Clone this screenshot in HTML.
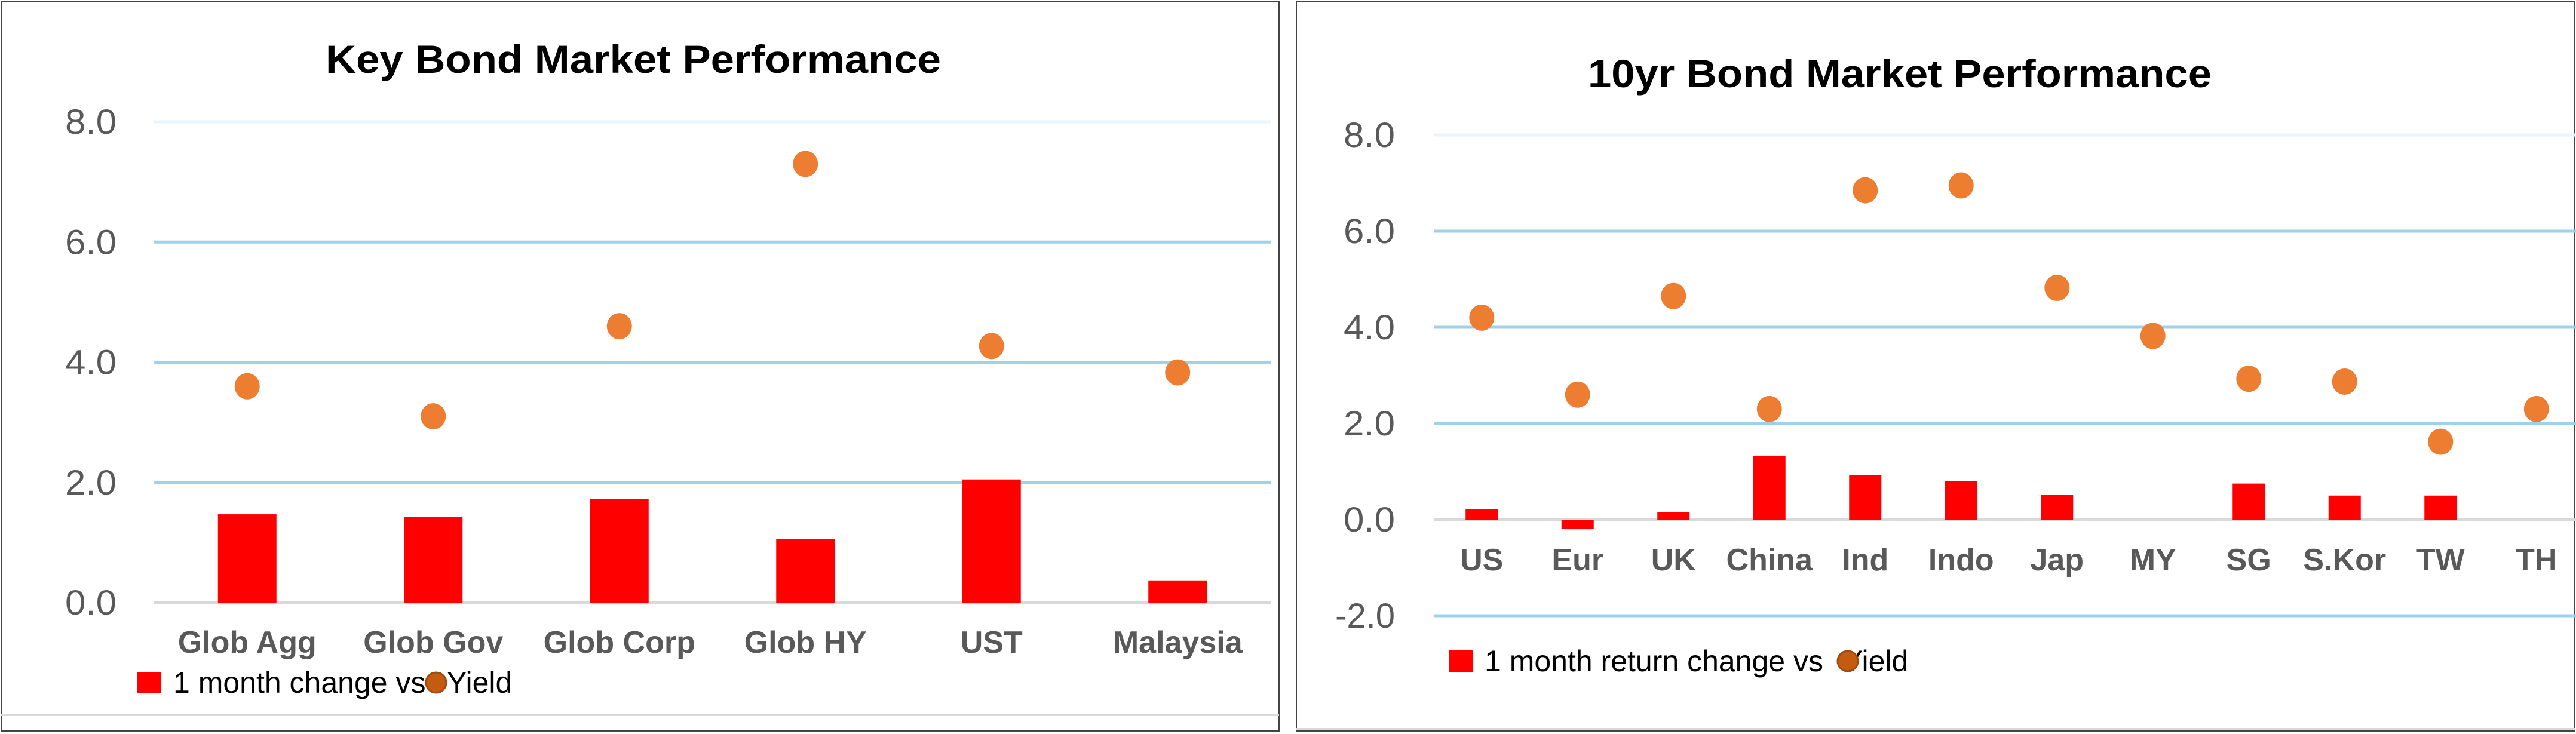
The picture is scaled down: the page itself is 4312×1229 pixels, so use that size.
<!DOCTYPE html>
<html><head><meta charset="utf-8">
<style>
html,body{margin:0;padding:0;background:#fff;}
svg{display:block;}
text{font-family:"Liberation Sans",sans-serif;}
</style></head>
<body>
<svg id="chart" width="4312" height="1229" viewBox="0 0 4312 1229" xmlns="http://www.w3.org/2000/svg">
<rect x="0" y="0" width="4312" height="1229" fill="#fff"/>
<rect x="2" y="2" width="2139" height="1222" fill="none" stroke="#444" stroke-width="2"/>
<rect x="2170" y="2" width="2140" height="1222" fill="none" stroke="#444" stroke-width="2"/>
<line x1="2" y1="1197" x2="2141" y2="1197" stroke="#d9d9d9" stroke-width="4"/>
<line x1="2170" y1="1221" x2="4310" y2="1221" stroke="#d9d9d9" stroke-width="4"/>
<g id="left"></g><g id="right"></g>
</svg>
<script>
const leftCats=["Glob Agg","Glob Gov","Glob Corp","Glob HY","UST","Malaysia"];
const leftBars=[1.47,1.43,1.72,1.06,2.05,0.37];
const leftYield=[3.6,3.1,4.6,7.3,4.27,3.83];
const leftTicks=[0,2,4,6,8];
const rightCats=["US","Eur","UK","China","Ind","Indo","Jap","MY","SG","S.Kor","TW","TH"];
const rightBars=[0.22,-0.2,0.15,1.33,0.93,0.8,0.52,0,0.75,0.5,0.5,0];
const rightYield=[4.2,2.6,4.65,2.3,6.85,6.95,4.82,3.82,2.93,2.87,1.62,2.3];
const rightTicks=[-2,0,2,4,6,8];
const NS="http://www.w3.org/2000/svg";
function mk(tag,attrs,parent,txt){const e=document.createElementNS(NS,tag);for(const k in attrs)e.setAttribute(k,attrs[k]);if(txt!==undefined)e.textContent=txt;parent.appendChild(e);return e;}
function draw(g,cfg){
  const y=v=>cfg.y0-(v-0)*(cfg.y0-cfg.y8)/8;
  const band=(cfg.x1-cfg.x0)/cfg.cats.length;
  const xc=i=>cfg.x0+band*(i+0.5);
  let t=mk('text',{x:cfg.titleX,y:cfg.titleY,'font-size':66,'font-weight':'bold','text-anchor':'middle',fill:'#000',textLength:cfg.titleW,lengthAdjust:'spacingAndGlyphs'},g,cfg.title);
  
  
  cfg.ticks.forEach(v=>{
    const col=v===0?'#d9d9d9':(v===8?'#eaf4fb':'#9dd2ec');
    let l=mk('line',{x1:cfg.x0,x2:cfg.x1,y1:y(v),y2:y(v),stroke:col,'stroke-width':5},g);
    
    
    let tl=mk('text',{x:cfg.tickX,y:y(v)+20,'font-size':58,'text-anchor':'end',fill:'#595959',textLength:v<0?100:86,lengthAdjust:'spacingAndGlyphs'},g,v.toFixed(1));
    
    
  });
  cfg.cats.forEach((c,i)=>{
    const v=cfg.bars[i];
    if(v!==0){
      const top=Math.min(y(v),y(0)),h=Math.abs(y(v)-y(0));
      let r=mk('rect',{x:xc(i)-cfg.bw/2,y:top,width:cfg.bw,height:h,fill:'#ff0000'},g);
      
      
    }
    let d=mk('ellipse',{cx:xc(i),cy:y(cfg.yld[i]),rx:21,ry:22,fill:'#ed7d31'},g);
    
    
    let lb=mk('text',{x:xc(i),y:cfg.catY,'font-size':52,'font-weight':'bold','text-anchor':'middle',fill:'#595959'},g,c);
    
    
  });
  let sq=mk('rect',{x:cfg.legX,y:cfg.legY-18,width:40,height:36,fill:'#ff0000'},g);
  
  
  let lt=mk('text',{x:cfg.legX+60,y:cfg.legY+17,'font-size':50,fill:'#000'},g,cfg.legText);
  
  
  let yt=mk('text',{x:cfg.yX,y:cfg.legY+17,'font-size':50,fill:'#000'},g,'Yield');
  
  
  let ld=mk('circle',{cx:cfg.dotX,cy:cfg.legY,r:17,fill:'#c55a11',stroke:'#a04a10','stroke-width':3},g);
  
  
}
draw(document.getElementById('left'),{title:'Key  Bond Market Performance',titleX:1060,titleY:122,titleW:1030,
  cats:leftCats,bars:leftBars,yld:leftYield,ticks:leftTicks,x0:258,x1:2127,y0:1009,y8:204,bw:98,tickX:195,catY:1093,
  legX:230,legY:1143,legText:'1 month change vs',yX:748,dotX:730});
draw(document.getElementById('right'),{title:'10yr Bond Market Performance',titleX:3180,titleY:146,titleW:1044,
  cats:rightCats,bars:rightBars,yld:rightYield,ticks:rightTicks,x0:2400,x1:4326,y0:870,y8:226,bw:54,tickX:2335,catY:955,
  legX:2425,legY:1107,legText:'1 month return change vs',yX:3085,dotX:3093});
</script>
</body></html>
